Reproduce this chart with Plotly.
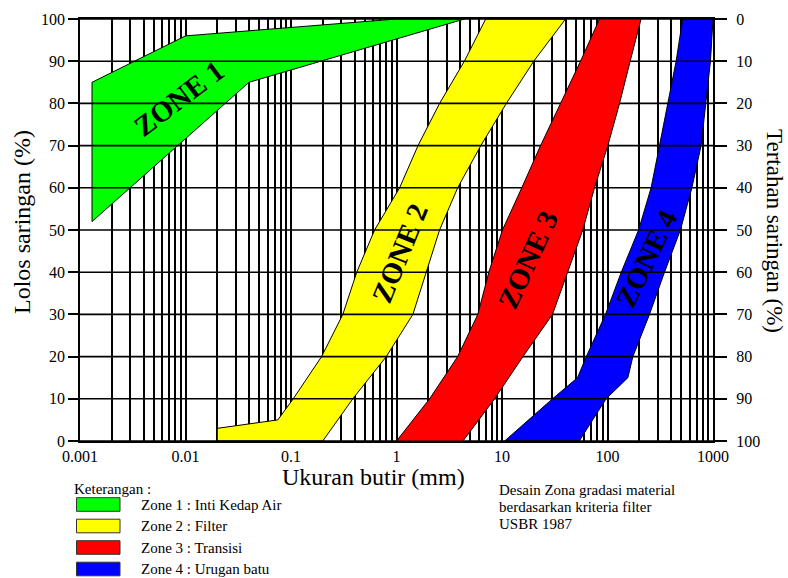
import plotly.graph_objects as go

# ---------------- data ----------------
x_tick_vals = [0.001, 0.01, 0.1, 1, 10, 100, 1000]
x_tick_text = ["0.001", "0.01", "0.1", "1", "10", "100", "1000"]
y_tick_vals = [0, 10, 20, 30, 40, 50, 60, 70, 80, 90, 100]

# Zone 1 : Inti Kedap Air (percent passing vs grain size, mm)
zone1_upper_mm = [0.0013, 0.01, 1.0, 4.4]
zone1_upper_pct = [85, 96, 100, 100]
zone1_lower_mm = [0.0013, 0.04, 4.4]
zone1_lower_pct = [52, 85, 100]

# Zone 2 : Filter
zone2_fine_mm = [0.02, 0.02, 0.075, 0.105, 0.195, 0.31, 0.42, 0.62, 1.07, 1.6, 2.56, 4.4, 7.0]
zone2_fine_pct = [0, 3, 5, 10, 20, 30, 40, 50, 60, 70, 80, 90, 100]
zone2_coarse_mm = [0.2, 0.385, 0.8, 1.43, 1.92, 2.56, 3.8, 6.3, 11, 20, 40]
zone2_coarse_pct = [0, 10, 20, 30, 40, 50, 60, 70, 80, 90, 100]

# Zone 3 : Transisi
zone3_fine_mm = [1.0, 2.06, 3.8, 5.9, 7.5, 10.1, 15.4, 23.2, 35.9, 55.5, 84]
zone3_fine_pct = [0, 10, 20, 30, 40, 50, 60, 70, 80, 90, 100]
zone3_coarse_mm = [4.27, 8.5, 15.8, 30.1, 41.8, 58.3, 75.3, 100.7, 130, 164, 208]
zone3_coarse_pct = [0, 10, 20, 30, 40, 50, 60, 70, 80, 90, 100]

# Zone 4 : Urugan batu
zone4_fine_mm = [10.6, 30.1, 52, 63, 95.7, 135, 197, 259, 311, 372, 447, 516]
zone4_fine_pct = [0, 10, 15, 20, 30, 40, 50, 60, 70, 80, 90, 100]
zone4_coarse_mm = [54, 97, 156, 174, 250, 347, 491, 631, 771, 861, 946, 1000]
zone4_coarse_pct = [0, 10, 15, 20, 30, 40, 50, 60, 70, 80, 90, 100]

zone_names = ["ZONE 1", "ZONE 2", "ZONE 3", "ZONE 4"]
zone_colors = ["#00ff00", "#ffff00", "#ff0000", "#0000ff"]
legend_labels = ["Zone 1 : Inti Kedap Air", "Zone 2 : Filter",
                 "Zone 3 : Transisi", "Zone 4 : Urugan batu"]
note_lines = ["Desain Zona gradasi material", "berdasarkan kriteria filter", "USBR 1987"]

# ---------------- layout helpers ----------------
W, H = 788, 578
L, R, T, B = 80, 75, 19, 137
PW, PH = W - L - R, H - T - B
FONT = "Liberation Serif, Times New Roman, serif"


def pxx(x):
    return (x - L) / PW


def pxy(y):
    return (H - B - y) / PH


def polygon(a_mm, a_pct, b_mm, b_pct):
    xs = list(a_mm) + list(reversed(b_mm)) + [a_mm[0]]
    ys = list(a_pct) + list(reversed(b_pct)) + [a_pct[0]]
    return xs, ys


zones = [
    polygon(zone1_upper_mm, zone1_upper_pct, zone1_lower_mm, zone1_lower_pct),
    polygon(zone2_fine_mm, zone2_fine_pct, zone2_coarse_mm, zone2_coarse_pct),
    polygon(zone3_fine_mm, zone3_fine_pct, zone3_coarse_mm, zone3_coarse_pct),
    polygon(zone4_fine_mm, zone4_fine_pct, zone4_coarse_mm, zone4_coarse_pct),
]

fig = go.Figure()


def add_zone(i):
    xs, ys = zones[i]
    fig.add_trace(go.Scatter(
        x=xs, y=ys, mode="lines", fill="toself",
        fillcolor=zone_colors[i], line=dict(color="black", width=1),
        name=legend_labels[i], showlegend=False, hoverinfo="skip"))


# green, yellow, blue below the horizontal grid lines
for i in (0, 1, 3):
    add_zone(i)

# horizontal grid lines (drawn over zones 1, 2, 4 as in the original)
hx, hy = [], []
for v in y_tick_vals:
    hx += [x_tick_vals[0], x_tick_vals[-1], None]
    hy += [v, v, None]
fig.add_trace(go.Scatter(x=hx, y=hy, mode="lines",
                         line=dict(color="black", width=1.6),
                         showlegend=False, hoverinfo="skip"))

# red zone on top
add_zone(2)

# dummy trace for the right axis
fig.add_trace(go.Scatter(x=[1], y=[50], yaxis="y2", mode="markers",
                         marker=dict(opacity=0), showlegend=False, hoverinfo="skip"))

fig.update_layout(
    width=W, height=H, autosize=False,
    margin=dict(l=L, r=R, t=T, b=B, pad=0),
    paper_bgcolor="white", plot_bgcolor="white",
    font=dict(family=FONT, color="black", size=16),
    showlegend=False,
    xaxis=dict(
        type="log", range=[-3, 3],
        tickvals=x_tick_vals, ticktext=x_tick_text,
        showgrid=True, gridcolor="black", gridwidth=1.5,
        minor=dict(dtick="D1", showgrid=True, gridcolor="black", gridwidth=1.5, ticks=""),
        ticks="", showline=True, linecolor="black", linewidth=1.6, mirror=True,
        zeroline=False, tickfont=dict(family=FONT, size=16, color="black"),
        layer="above traces",
    ),
    yaxis=dict(
        range=[0, 100], tickvals=y_tick_vals,
        showgrid=False, zeroline=False,
        ticks="outside", ticklen=10, tickwidth=1.6, tickcolor="black",
        showline=True, linecolor="black", linewidth=1.6, mirror=True,
        tickfont=dict(family=FONT, size=16, color="black"),
        layer="above traces",
    ),
    yaxis2=dict(
        overlaying="y", side="right", range=[100, 0], tickvals=y_tick_vals,
        showgrid=False, zeroline=False,
        ticks="outside", ticklen=13, tickwidth=1.6, tickcolor="black",
        showline=False, ticklabelstandoff=6,
        tickfont=dict(family=FONT, size=16, color="black"),
        layer="above traces",
    ),
)

annotations = []
# axis titles
annotations.append(dict(text="Ukuran butir (mm)", xref="paper", yref="paper",
                        x=pxx(373.5), y=pxy(477), xanchor="center", yanchor="middle",
                        showarrow=False, font=dict(family=FONT, size=24, color="black")))
annotations.append(dict(text="Lolos saringan (%)", xref="paper", yref="paper",
                        x=pxx(22), y=pxy(222), xanchor="center", yanchor="middle",
                        textangle=-90, showarrow=False,
                        font=dict(family=FONT, size=24, color="black")))
annotations.append(dict(text="Tertahan saringan (%)", xref="paper", yref="paper",
                        x=pxx(775), y=pxy(231), xanchor="center", yanchor="middle",
                        textangle=90, showarrow=False,
                        font=dict(family=FONT, size=23, color="black")))

# zone labels (positions in log10(mm), % passing)
zone_label_pos = [(-2.057, 81.2, -37), (0.033, 44.5, -68), (1.244, 42.9, -65), (2.370, 43.1, -64)]
for name, (lx, ly, ang) in zip(zone_names, zone_label_pos):
    annotations.append(dict(text="<b>" + name + "</b>", x=lx, y=ly, xref="x", yref="y",
                            textangle=ang, showarrow=False,
                            font=dict(family=FONT, size=29, color="black")))

# legend block
annotations.append(dict(text="Keterangan :", xref="paper", yref="paper",
                        x=pxx(72), y=pxy(489), xanchor="left", yanchor="middle",
                        showarrow=False, font=dict(family=FONT, size=15, color="black")))
row_y = [504.5, 526, 547.5, 569]
shapes = []
for lab, col, ry in zip(legend_labels, zone_colors, row_y):
    shapes.append(dict(type="rect", xref="paper", yref="paper",
                       x0=pxx(76.5), x1=pxx(120), y0=pxy(ry - 6.8), y1=pxy(ry + 6.8),
                       fillcolor=col, line=dict(color="#333333", width=1)))
    annotations.append(dict(text=lab, xref="paper", yref="paper",
                            x=pxx(139), y=pxy(ry), xanchor="left", yanchor="middle",
                            showarrow=False, font=dict(family=FONT, size=15, color="black")))

for line, ny in zip(note_lines, [490, 507, 523.5]):
    annotations.append(dict(text=line, xref="paper", yref="paper",
                            x=pxx(497), y=pxy(ny), xanchor="left", yanchor="middle",
                            showarrow=False, font=dict(family=FONT, size=15, color="black")))

fig.update_layout(annotations=annotations, shapes=shapes)

fig.write_html("out.html")
